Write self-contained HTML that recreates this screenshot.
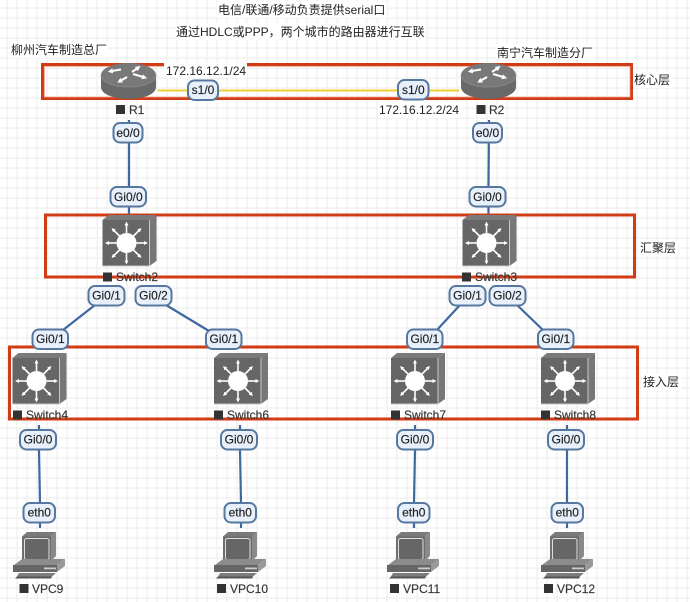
<!DOCTYPE html>
<html><head><meta charset="utf-8">
<style>
html,body{margin:0;padding:0;background:#fff;width:690px;height:602px;overflow:hidden}
svg{display:block}
text{font-family:"Liberation Sans","Noto Sans CJK SC",sans-serif;font-size:12px;fill:#222}
.p rect{fill:#e8f1fb;stroke:#56779f;stroke-width:2}
.p text{text-anchor:middle;fill:#1f1f1f;stroke:#1f1f1f;stroke-width:.15}
.l{stroke:#3f68a3;stroke-width:2.2;fill:none}
.f{fill:none;stroke:#d13c15;stroke-width:3}
.s{fill:#333}
.n{fill:#333;font-size:12px;stroke:#333;stroke-width:.15}
</style></head><body>
<svg width="690" height="602" viewBox="0 0 690 602" xmlns="http://www.w3.org/2000/svg">
<defs>
<pattern id="g" x="6.5" y="7.5" width="10" height="10" patternUnits="userSpaceOnUse">
<rect width="10" height="10" fill="#fff"/>
<path d="M0 .5H10M.5 0V10" stroke="#eeeeee" stroke-width="1.2"/>
</pattern>
<marker id="a" viewBox="0 0 6 6" refX="1" refY="3" markerWidth="2.6" markerHeight="2.6" orient="auto" markerUnits="strokeWidth"><path d="M0 0L6 3L0 6Z" fill="#fff"/></marker>
<g id="rt">
<path d="M0 12V24C0 31 12 36 27.5 36S55 31 55 24V12Z" fill="#696969"/>
<ellipse cx="27.500" cy="12" rx="27.500" ry="12" fill="#787878"/>
<path d="M0 12C0 19 12 24 27.500 24S55 19 55 12" fill="none" stroke="#8c8c8c" stroke-width=".8"/>
<g stroke="#fff" stroke-width="2" fill="none">
<path d="M20 6.500L11 8" marker-end="url(#a)"/>
<path d="M31 9L36 5.500" marker-end="url(#a)"/>
<path d="M26 14L20 17.500" marker-end="url(#a)"/>
<path d="M32 11L42 14" marker-end="url(#a)"/>
</g>
</g>
<g id="sw">
<polygon points="0,5 6,0 54,0 47,5" fill="#7a7a7a"/>
<polygon points="47,5 54,0 54,46 47,51" fill="#777"/>
<rect x="0" y="5" width="47" height="46" fill="#666"/>
<path d="M47 5V51H0" fill="none" stroke="#c8c8c8" stroke-width="1"/>
<circle cx="24" cy="28" r="10" fill="#fff"/>
<g stroke="#fff" stroke-width="1.600" fill="none">
<path d="M24 18V10" marker-end="url(#a)"/>
<path d="M24 38V46" marker-end="url(#a)"/>
<path d="M14 28H6" marker-end="url(#a)"/>
<path d="M34 28H42" marker-end="url(#a)"/>
<path d="M17 21L11.500 15.500" marker-end="url(#a)"/>
<path d="M31 21L36.500 15.500" marker-end="url(#a)"/>
<path d="M17 35L11.500 40.500" marker-end="url(#a)"/>
<path d="M31 35L36.500 40.500" marker-end="url(#a)"/>
</g>
</g>
<g id="pc">
<polygon points="8,4.500 13,0 42,0 37,4.500" fill="#7a7a7a"/>
<polygon points="37,4.500 42,0 42,24 37,29" fill="#8a8a8a"/>
<rect x="8" y="4.500" width="29" height="25" fill="#6e6e6e"/>
<rect x="10.500" y="6.500" width="24.500" height="21" rx="2" fill="#666" stroke="#dedede" stroke-width="1"/>
<polygon points="0,33 8,27 51,27 43,33" fill="#8c8c8c"/>
<polygon points="43,33 51,27 51,34 43,40" fill="#999"/>
<rect x="-1" y="33" width="44" height="7" fill="#666"/>
<rect x="30" y="35.500" width="12" height="1.800" fill="#ccc"/>
<polygon points="5,41 42,41 38,44.500 3,44.500" fill="#7d7d7d"/>
<polygon points="3,44.500 38,44.500 37,46.500 1,46.500" fill="#555"/>
</g>
</defs>

<rect width="690" height="602" fill="url(#g)"/>

<!-- label backgrounds -->
<g fill="#fff">
<rect x="217" y="2" width="170" height="16"/>
<rect x="175" y="23" width="251" height="17"/>
<rect x="10" y="42" width="98" height="16"/>
<rect x="496" y="44" width="98" height="15"/>
<rect x="633" y="72" width="39" height="16"/>
<rect x="639" y="240" width="39" height="16"/>
<rect x="642" y="374" width="39" height="16"/>
</g>

<!-- frames -->
<rect class="f" x="42.500" y="64.500" width="589" height="34"/>
<path d="M44.500 66.500H630V97H44.500Z" fill="none" stroke="#f0a58c" stroke-width=".8"/>
<rect class="f" x="45.500" y="215" width="589" height="62"/>
<rect class="f" x="9.500" y="347" width="628" height="72"/>

<!-- IP labels bg -->
<rect x="164" y="62" width="83" height="16" fill="#fff"/>
<rect x="378" y="102" width="82" height="16" fill="#fff"/>

<!-- links -->
<path d="M158 90.500H459" stroke="#efcf2f" stroke-width="2" fill="none"/>
<path class="l" d="M129 120V187"/><path class="l" d="M129 207V214"/>
<path class="l" d="M489 120L488.500 187"/><path class="l" d="M488.500 207V214"/>
<path class="l" d="M95 305L63 330"/>
<path class="l" d="M166 305L209 331"/>
<path class="l" d="M460 305L436 331"/>
<path class="l" d="M517 305L544 331"/>
<path class="l" d="M39 425V430M39 450L40 503M40 523V528"/>
<path class="l" d="M240 425V430M240 450L241 503M241 523V528"/>
<path class="l" d="M415 425V430M415 450L414 503M414 523V528"/>
<path class="l" d="M567 425V430M567 450V503M567 523V528"/>

<!-- nodes -->
<use href="#rt" x="101" y="63"/>
<use href="#rt" x="461" y="63"/>
<use href="#sw" x="102.500" y="215"/>
<use href="#sw" x="462.500" y="215"/>
<use href="#sw" x="12.500" y="353"/>
<use href="#sw" x="214" y="353"/>
<use href="#sw" x="391" y="353"/>
<use href="#sw" x="541" y="353"/>
<use href="#pc" x="14" y="532"/>
<use href="#pc" x="215" y="532"/>
<use href="#pc" x="388" y="532"/>
<use href="#pc" x="542" y="532"/>

<!-- node names -->
<rect class="s" x="116" y="105" width="9" height="9"/><text class="n" x="129" y="114">R1</text>
<rect class="s" x="476.500" y="105" width="9" height="9"/><text class="n" x="489" y="114">R2</text>
<rect class="s" x="103" y="272.500" width="9" height="9"/><text class="n" x="116" y="281">Switch2</text>
<rect class="s" x="462" y="272.500" width="9" height="9"/><text class="n" x="475" y="281">Switch3</text>
<rect class="s" x="13" y="410.500" width="9" height="9"/><text class="n" x="26" y="419">Switch4</text>
<rect class="s" x="214" y="410.500" width="9" height="9"/><text class="n" x="227" y="419">Switch6</text>
<rect class="s" x="391" y="410.500" width="9" height="9"/><text class="n" x="404" y="419">Switch7</text>
<rect class="s" x="541" y="410.500" width="9" height="9"/><text class="n" x="554" y="419">Switch8</text>
<rect class="s" x="19.500" y="584" width="9" height="9"/><text class="n" x="32" y="593">VPC9</text>
<rect class="s" x="217" y="584" width="9" height="9"/><text class="n" x="230" y="593">VPC10</text>
<rect class="s" x="390" y="584" width="9" height="9"/><text class="n" x="403" y="593">VPC11</text>
<rect class="s" x="544" y="584" width="9" height="9"/><text class="n" x="557" y="593">VPC12</text>

<!-- free text -->
<text x="218" y="14">电信/联通/移动负责提供serial口</text>
<text x="176" y="36">通过HDLC或PPP，两个城市的路由器进行互联</text>
<text x="11" y="54">柳州汽车制造总厂</text>
<text x="497" y="57">南宁汽车制造分厂</text>
<text x="634" y="84">核心层</text>
<text x="640" y="252">汇聚层</text>
<text x="643" y="386">接入层</text>
<text x="166" y="75">172.16.12.1/24</text>
<text x="379" y="114">172.16.12.2/24</text>

<!-- pills -->
<g class="p">
<rect x="113.500" y="123" width="29" height="19.500" rx="6.500"/><text x="128" y="137">e0/0</text>
<rect x="110.500" y="187" width="35.500" height="19.500" rx="6.500"/><text x="128.300" y="201">Gi0/0</text>
<rect x="188" y="80.500" width="30" height="19.500" rx="6.500"/><text x="203" y="94">s1/0</text>
<rect x="398" y="80" width="30.500" height="19.500" rx="6.500"/><text x="413.300" y="94">s1/0</text>
<rect x="473" y="123" width="29" height="19.500" rx="6.500"/><text x="487.500" y="137">e0/0</text>
<rect x="469.500" y="187" width="36" height="19.500" rx="6.500"/><text x="487.500" y="201">Gi0/0</text>
<rect x="88.500" y="286" width="36" height="19.500" rx="6.500"/><text x="106.500" y="299.500">Gi0/1</text>
<rect x="135.500" y="286" width="36" height="19.500" rx="6.500"/><text x="153.500" y="299.500">Gi0/2</text>
<rect x="449.500" y="286" width="36" height="19.500" rx="6.500"/><text x="467.500" y="299.500">Gi0/1</text>
<rect x="489.500" y="286" width="36" height="19.500" rx="6.500"/><text x="507.500" y="299.500">Gi0/2</text>
<rect x="32.500" y="329.500" width="35.500" height="19.500" rx="6.500"/><text x="50.300" y="343">Gi0/1</text>
<rect x="206" y="329.500" width="35.500" height="19.500" rx="6.500"/><text x="223.800" y="343">Gi0/1</text>
<rect x="407" y="329.500" width="35.500" height="19.500" rx="6.500"/><text x="424.800" y="343">Gi0/1</text>
<rect x="538" y="329.500" width="35.500" height="19.500" rx="6.500"/><text x="555.800" y="343">Gi0/1</text>
<rect x="20" y="430" width="36" height="19.500" rx="6.500"/><text x="38" y="443.500">Gi0/0</text>
<rect x="221" y="430" width="36" height="19.500" rx="6.500"/><text x="239" y="443.500">Gi0/0</text>
<rect x="397" y="430" width="36" height="19.500" rx="6.500"/><text x="415" y="443.500">Gi0/0</text>
<rect x="548" y="430" width="36" height="19.500" rx="6.500"/><text x="566" y="443.500">Gi0/0</text>
<rect x="23.500" y="503" width="31.500" height="19.500" rx="6.500"/><text x="39.300" y="516.500">eth0</text>
<rect x="224.500" y="503" width="31.500" height="19.500" rx="6.500"/><text x="240.300" y="516.500">eth0</text>
<rect x="398" y="503" width="31.500" height="19.500" rx="6.500"/><text x="413.800" y="516.500">eth0</text>
<rect x="551.500" y="503" width="31.500" height="19.500" rx="6.500"/><text x="567.300" y="516.500">eth0</text>
</g>
</svg>
</body></html>
